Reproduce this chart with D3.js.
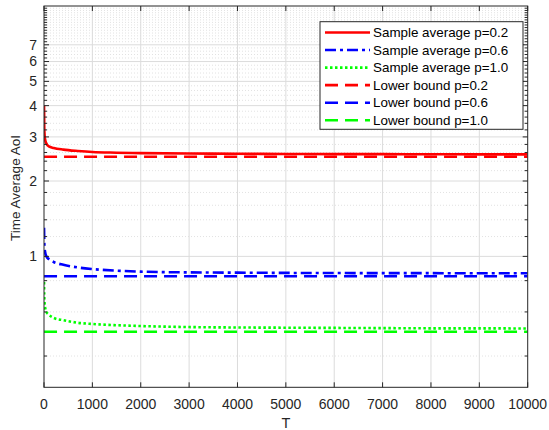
<!DOCTYPE html>
<html><head><meta charset="utf-8">
<script src="https://cdn.jsdelivr.net/npm/d3@7"></script>
<style>
body{margin:0;background:#fff;}
svg{display:block;font-family:"Liberation Sans",Arial,sans-serif;}
</style></head>
<body><svg id="c" width="549" height="430"></svg>
<script>
// ---- data ----
const T = [1, 5, 10, 20, 50, 100, 200, 400, 700, 1000, 1500, 2000, 3000, 4000, 5000, 6000, 7000, 8000, 9000, 10000];
const sampleP02 = [4.0, 3.3, 3.1, 2.95, 2.82, 2.75, 2.71, 2.67, 2.635, 2.61, 2.595, 2.585, 2.575, 2.57, 2.565, 2.562, 2.56, 2.558, 2.556, 2.555];
const sampleP06 = [1.30, 1.16, 1.10, 1.05, 1.0, 0.975, 0.95, 0.925, 0.903, 0.89, 0.877, 0.869, 0.863, 0.861, 0.859, 0.858, 0.857, 0.857, 0.856, 0.856];
const sampleP10 = [0.79, 0.70, 0.66, 0.63, 0.60, 0.585, 0.568, 0.556, 0.543, 0.537, 0.531, 0.527, 0.522, 0.520, 0.519, 0.518, 0.517, 0.516, 0.516, 0.515];
const boundP02 = 2.5;
const boundP06 = 0.8333;
const boundP10 = 0.5;
const xTicks = [0, 1000, 2000, 3000, 4000, 5000, 6000, 7000, 8000, 9000, 10000];
const yMajorTicks = [1, 2, 3, 4, 5, 6, 7];
const yMinorTicks = [0.4, 0.6, 0.8, 1.2, 1.4, 1.6, 1.8, 2.2, 2.4, 2.6, 2.8, 3.2, 3.4, 3.6, 3.8, 4.2, 4.4, 4.6, 4.8,
  5.2, 5.4, 5.6, 5.8, 6.2, 6.4, 6.6, 6.8, 7.2, 7.4, 7.6, 7.8, 8, 8.2, 8.4, 8.6, 8.8, 9, 9.2, 9.4, 9.6, 9.8];
const legendLabels = ["Sample average p=0.2", "Sample average p=0.6", "Sample average p=1.0", "Lower bound p=0.2", "Lower bound p=0.6", "Lower bound p=1.0"];

// ---- layout ----
const L = 44, R = 527.7, Tp = 6, B = 387.3;
const svg = d3.select("#c");
const x = d3.scaleLinear().domain([0, 10000]).range([L, R]);
const y = d3.scaleLog().domain([0.3, 10]).range([B, Tp]);
const axisCol = "#262626", gridCol = "#dcdcdc";

// grids
const g = svg.append("g");
g.selectAll(".ymin").data(yMinorTicks).join("line")
  .attr("x1", L).attr("x2", R).attr("y1", d => y(d)).attr("y2", d => y(d))
  .attr("stroke", "#e2e2e2").attr("stroke-width", 1).attr("stroke-dasharray", "1,2");
g.selectAll(".ymaj").data(yMajorTicks).join("line")
  .attr("x1", L).attr("x2", R).attr("y1", d => y(d)).attr("y2", d => y(d))
  .attr("stroke", gridCol).attr("stroke-width", 1);
g.selectAll(".xg").data(xTicks.slice(1, -1)).join("line")
  .attr("x1", d => x(d)).attr("x2", d => x(d)).attr("y1", Tp).attr("y2", B)
  .attr("stroke", gridCol).attr("stroke-width", 1);

// series
const pts = vals => T.map((t, i) => [t, vals[i]]);
const line = d3.line().x(d => x(d[0])).y(d => y(d[1])).curve(d3.curveMonotoneX);
const series = [
  {data: pts(sampleP02), color: "#ff0000", dash: null},
  {data: pts(sampleP06), color: "#0000ff", dash: "11,4,3,4"},
  {data: pts(sampleP10), color: "#00ff00", dash: "2.5,2.5"},
  {data: [[T[0], boundP02], [T[T.length-1], boundP02]], color: "#ff0000", dash: "13,7"},
  {data: [[T[0], boundP06], [T[T.length-1], boundP06]], color: "#0000ff", dash: "13,7"},
  {data: [[T[0], boundP10], [T[T.length-1], boundP10]], color: "#00ff00", dash: "13,7"}
];
svg.append("clipPath").attr("id", "cp").append("rect")
  .attr("x", L).attr("y", Tp).attr("width", R - L).attr("height", B - Tp);
const sg = svg.append("g").attr("clip-path", "url(#cp)");
series.forEach(s => {
  sg.append("path").attr("d", line(s.data)).attr("fill", "none")
    .attr("stroke", s.color).attr("stroke-width", 2.6)
    .attr("stroke-dasharray", s.dash);
});

// axes
const ax = svg.append("g").attr("stroke", axisCol).attr("fill", "none");
ax.append("rect").attr("x", L).attr("y", Tp).attr("width", R - L).attr("height", B - Tp).attr("stroke-width", 1);
xTicks.forEach(t => {
  ax.append("line").attr("x1", x(t)).attr("x2", x(t)).attr("y1", B).attr("y2", B - 5);
  ax.append("line").attr("x1", x(t)).attr("x2", x(t)).attr("y1", Tp).attr("y2", Tp + 5);
});
yMajorTicks.forEach(t => {
  ax.append("line").attr("x1", L).attr("x2", L + 5).attr("y1", y(t)).attr("y2", y(t));
  ax.append("line").attr("x1", R).attr("x2", R - 5).attr("y1", y(t)).attr("y2", y(t));
});
yMinorTicks.forEach(t => {
  ax.append("line").attr("x1", L).attr("x2", L + 3).attr("y1", y(t)).attr("y2", y(t));
  ax.append("line").attr("x1", R).attr("x2", R - 3).attr("y1", y(t)).attr("y2", y(t));
});

// tick labels
svg.selectAll(".xl").data(xTicks).join("text")
  .attr("x", d => x(d)).attr("y", 409).attr("text-anchor", "middle")
  .attr("font-size", 14).attr("fill", axisCol).text(d => d);
svg.selectAll(".yl").data(yMajorTicks).join("text")
  .attr("x", 37).attr("y", d => y(d)).attr("dy", "0.35em").attr("text-anchor", "end")
  .attr("font-size", 14).attr("fill", axisCol).text(d => d);
svg.append("text").attr("x", (L + R) / 2).attr("y", 428).attr("text-anchor", "middle")
  .attr("font-size", 14.5).attr("fill", axisCol).text("T");
svg.append("text").attr("transform", "translate(20,188) rotate(-90)")
  .attr("text-anchor", "middle").attr("font-size", 13.5).attr("fill", axisCol).text("Time Average AoI");

// legend
const lg = svg.append("g");
lg.append("rect").attr("x", 320).attr("y", 21.7).attr("width", 203).attr("height", 107.6)
  .attr("fill", "#fff").attr("stroke", axisCol).attr("stroke-width", 1);
legendLabels.forEach((lab, i) => {
  const yy = 32.5 + i * 17.55;
  lg.append("line").attr("x1", 325).attr("x2", 370).attr("y1", yy).attr("y2", yy)
    .attr("stroke", series[i].color).attr("stroke-width", 2.6).attr("stroke-dasharray", series[i].dash);
  lg.append("text").attr("x", 373).attr("y", yy).attr("dy", "0.35em")
    .attr("font-size", 13.4).attr("fill", "#000").text(lab);
});
</script></body></html>
